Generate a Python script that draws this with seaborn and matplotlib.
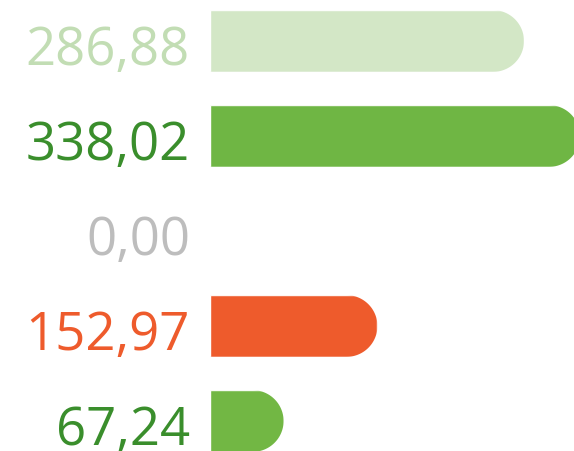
import numpy as np
import pandas as pd
from matplotlib import pyplot as plt
from matplotlib.patches import PathPatch
from matplotlib.path import Path
import seaborn as sns

# values shown beside each bar (top to bottom)
values = [286.88, 338.02, 0.00, 152.97, 67.24]
bar_colors = ['#d3e7c6', '#6fb644', '#bdbdbd', '#ee5b2c', '#72b744']
label_colors = ['#c2ddb4', '#3a8e2c', '#bdbdbd', '#ee5b2c', '#3a8e2c']

labels = [f"{v:.2f}".replace('.', ',') for v in values]
df = pd.DataFrame({'label': labels, 'value': values})

sns.set_style('white')
plt.rcParams['font.family'] = ['Open Sans', 'DejaVu Sans']

fig = plt.figure(figsize=(5.74, 4.51), dpi=100)
ax = fig.add_axes([0, 0, 1, 1])

sns.barplot(data=df, x='value', y='label', hue='label', palette=bar_colors,
            orient='h', width=0.65, legend=False, saturation=1, ax=ax)

# pixel mapping: zero at x=210, ~1.0945 px per unit; rows 95 px apart
px_x = 1.0945
px_y = 95
ax.set_xlim(-210 / px_x, (574 - 210) / px_x)
ax.set_ylim((451 - 41) / px_y, -41 / px_y)
ax.axis('off')

# round the right end of each bar with a circular arc (radius in pixels)
radius_px = 31
rx = radius_px / px_x
for bar in ax.patches:
    x0, y0 = bar.get_x(), bar.get_y()
    w, h = bar.get_width(), bar.get_height()
    if w <= 0:
        continue
    ry = min(radius_px / px_y, h / 2)
    x1, y1 = x0 + w, y0 + h
    t = np.linspace(0, np.pi / 2, 30)
    top = [(x1 - rx + rx * np.sin(a), y0 + ry - ry * np.cos(a)) for a in t]
    bot = [(x1 - rx + rx * np.cos(a), y1 - ry + ry * np.sin(a)) for a in t]
    verts = [(x0 - 60, y0)] + top + bot + [(x0 - 60, y1), (x0 - 60, y0)]
    codes = [Path.MOVETO] + [Path.LINETO] * (len(verts) - 2) + [Path.CLOSEPOLY]
    clip = PathPatch(Path(verts, codes), transform=ax.transData)
    bar.set_clip_path(clip)

for i, (lab, col) in enumerate(zip(labels, label_colors)):
    ax.text(-20 / px_x, i + 0.25, lab, color=col, fontsize=38,
            ha='right', va='baseline')

fig.savefig('out.png', dpi=100)
